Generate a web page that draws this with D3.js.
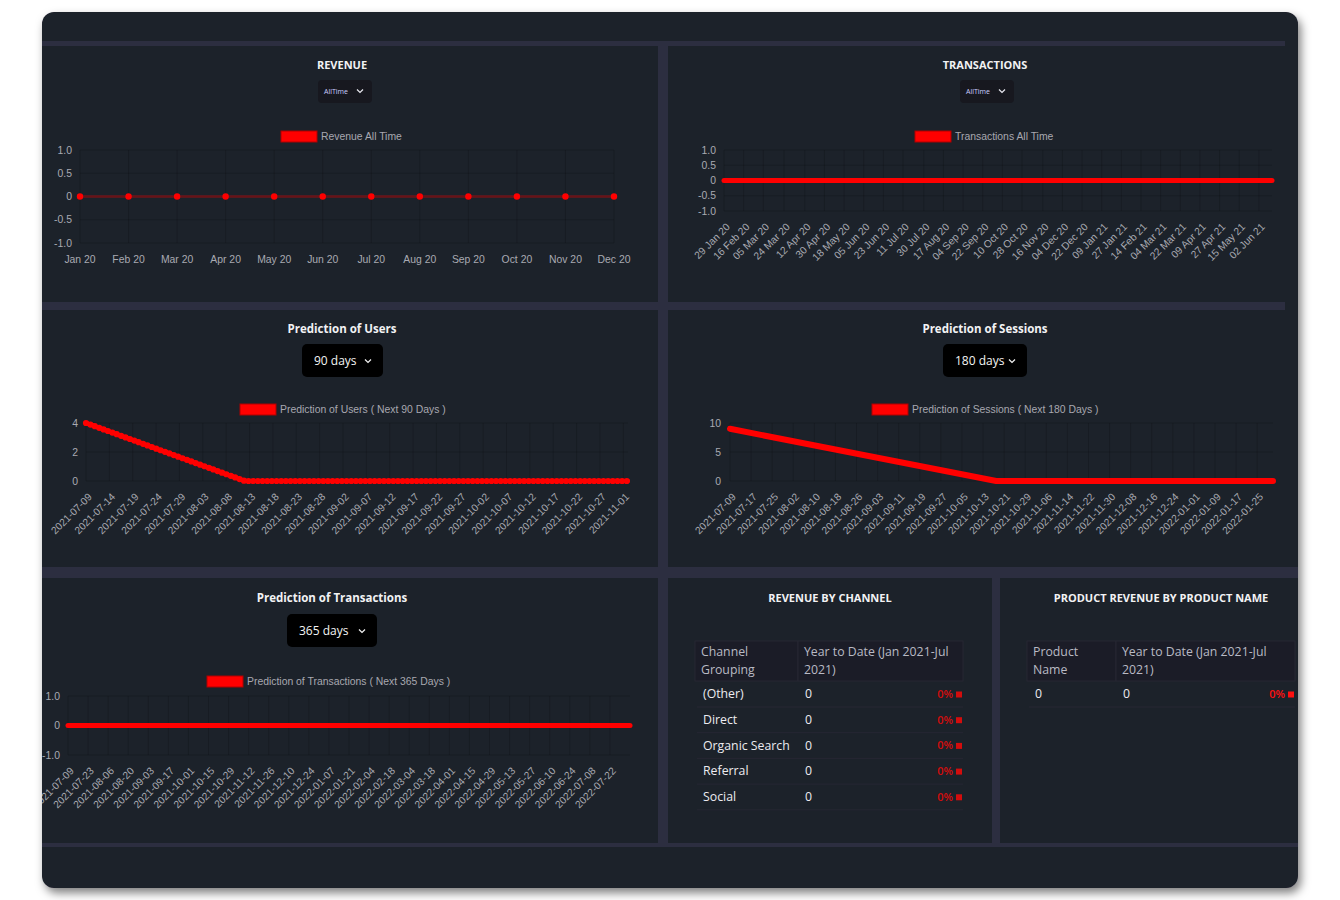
<!DOCTYPE html>
<html><head><meta charset="utf-8">
<script src="https://cdn.jsdelivr.net/npm/d3@7"></script>
<style>
html,body{margin:0;padding:0;background:#fff;}
svg{display:block;}
</style></head>
<body>
<script>
// ================= DATA =================
const revenueMonths = ["Jan 20","Feb 20","Mar 20","Apr 20","May 20","Jun 20","Jul 20","Aug 20","Sep 20","Oct 20","Nov 20","Dec 20"];
const revenueValues = [0,0,0,0,0,0,0,0,0,0,0,0];
const revenueYTicks = [1,0.5,0,-0.5,-1];

const txTickDates = ["2020-01-29","2020-02-16","2020-03-05","2020-03-24","2020-04-12","2020-04-30","2020-05-18","2020-06-05","2020-06-23","2020-07-11","2020-07-30","2020-08-17","2020-09-04","2020-09-22","2020-10-10","2020-10-28","2020-11-16","2020-12-04","2020-12-22","2021-01-09","2021-01-27","2021-02-14","2021-03-04","2021-03-22","2021-04-09","2021-04-27","2021-05-15","2021-06-02"];
const txDates = ["2020-01-29","2020-02-16","2020-03-05","2020-03-24","2020-04-12","2020-04-30","2020-05-18","2020-06-05","2020-06-23","2020-07-11","2020-07-30","2020-08-17","2020-09-04","2020-09-22","2020-10-10","2020-10-28","2020-11-16","2020-12-04","2020-12-22","2021-01-09","2021-01-27","2021-02-14","2021-03-04","2021-03-22","2021-04-09","2021-04-27","2021-05-15","2021-06-02","2021-06-14"];
const txValues = [0,0,0,0,0,0,0,0,0,0,0,0,0,0,0,0,0,0,0,0,0,0,0,0,0,0,0,0,0];
const txYTicks = [1,0.5,0,-0.5,-1];

const usersTickDates = ["2021-07-09","2021-07-14","2021-07-19","2021-07-24","2021-07-29","2021-08-03","2021-08-08","2021-08-13","2021-08-18","2021-08-23","2021-08-28","2021-09-02","2021-09-07","2021-09-12","2021-09-17","2021-09-22","2021-09-27","2021-10-02","2021-10-07","2021-10-12","2021-10-17","2021-10-22","2021-10-27","2021-11-01"];
const usersDates = ["2021-07-09","2021-08-12","2021-11-02"];
const usersValues = [4,0,0];
const usersYTicks = [4,2,0];

const sessionsTickDates = ["2021-07-09","2021-07-17","2021-07-25","2021-08-02","2021-08-10","2021-08-18","2021-08-26","2021-09-03","2021-09-11","2021-09-19","2021-09-27","2021-10-05","2021-10-13","2021-10-21","2021-10-29","2021-11-06","2021-11-14","2021-11-22","2021-11-30","2021-12-08","2021-12-16","2021-12-24","2022-01-01","2022-01-09","2022-01-17","2022-01-25"];
const sessionsDates = ["2021-07-09","2021-10-18","2022-01-31"];
const sessionsValues = [9,0,0];
const sessionsYTicks = [10,5,0];

const predTxTickDates = ["2021-07-09","2021-07-23","2021-08-06","2021-08-20","2021-09-03","2021-09-17","2021-10-01","2021-10-15","2021-10-29","2021-11-12","2021-11-26","2021-12-10","2021-12-24","2022-01-07","2022-01-21","2022-02-04","2022-02-18","2022-03-04","2022-03-18","2022-04-01","2022-04-15","2022-04-29","2022-05-13","2022-05-27","2022-06-10","2022-06-24","2022-07-08","2022-07-22"];
const predTxDates = ["2021-07-09","2022-08-05"];
const predTxValues = [0,0];
const predTxYTicks = [1,0,-1];

const channelNames = ["(Other)","Direct","Organic Search","Referral","Social"];
const channelValues = [0,0,0,0,0];
const channelPct = ["0%","0%","0%","0%","0%"];
const productNames = ["0"];
const productValues = [0];
const productPct = ["0%"];

// ================= STYLE =================
const BG = "#1f202c", GUTTER = "#2c2e40", GRID = "rgba(0,0,0,0.16)";
const RED = "#ff0000";
const UI = "'Open Sans', sans-serif";
const CH = "'Liberation Sans', Arial, sans-serif";
const TICK_COL = "#a9aab2";
const parse = d3.timeParse("%Y-%m-%d");
const fmtDMY = d3.timeFormat("%d %b %y");
const fmtISO = d3.timeFormat("%Y-%m-%d");
const numFmt = v => v === 0 ? "0" : (Number.isInteger(v) && Math.abs(v) !== 1 ? String(v) : v.toFixed(1));

const svg = d3.select("body").append("svg").attr("width",1340).attr("height",900);
const defs = svg.append("defs");
defs.append("clipPath").attr("id","cardClip").append("rect")
  .attr("x",42).attr("y",12).attr("width",1256).attr("height",876).attr("rx",12);
const f = defs.append("filter").attr("id","shadow").attr("x","-5%").attr("y","-5%").attr("width","110%").attr("height","115%");
f.append("feDropShadow").attr("dx",3).attr("dy",5).attr("stdDeviation",5).attr("flood-color","#000").attr("flood-opacity",0.5);

svg.append("rect").attr("x",42).attr("y",12).attr("width",1256).attr("height",876).attr("rx",12)
  .attr("fill",BG).attr("filter","url(#shadow)");
const root = svg.append("g").attr("clip-path","url(#cardClip)");

// gutters (layout bands)
const bands = [
  [42,41,1243,5],[42,302,1243,8],[42,567,1256,11],[42,843,1256,4],
  [658,46,10,256],[658,310,10,257],[658,578,10,265],[992,578,8,265]
];
root.selectAll("rect.band").data(bands).join("rect").attr("class","band")
  .attr("x",d=>d[0]).attr("y",d=>d[1]).attr("width",d=>d[2]).attr("height",d=>d[3]).attr("fill",GUTTER);

// ================= HELPERS =================
function title(txt, cx, cy, size){
  root.append("text").attr("x",cx).attr("y",cy).attr("dy","0.35em").attr("text-anchor","middle")
    .attr("font-family",UI).attr("font-weight",700).attr("font-size",size).attr("fill","#f2f2f4").text(txt);
}
function chevron(g, x, y, s, col){
  g.append("path").attr("d",`M${x-s},${y-s/2} L${x},${y+s/2} L${x+s},${y-s/2}`)
    .attr("fill","none").attr("stroke",col).attr("stroke-width",1.2);
}
function smallDrop(cx, y){
  const g = root.append("g");
  g.append("rect").attr("x",cx-27).attr("y",y).attr("width",54).attr("height",23).attr("rx",4).attr("fill","#17181f");
  g.append("text").attr("x",cx-21).attr("y",y+11.5).attr("dy","0.35em").attr("font-family",UI)
    .attr("font-size",7).attr("fill","#c9ccff").text("AllTime");
  chevron(g, cx+15, y+11, 3, "#e8e8f0");
}
function bigDrop(x, y, w, label){
  const g = root.append("g");
  g.append("rect").attr("x",x).attr("y",y).attr("width",w).attr("height",33).attr("rx",5).attr("fill","#000");
  g.append("text").attr("x",x+12).attr("y",y+16.5).attr("dy","0.35em").attr("font-family",UI)
    .attr("font-size",12).attr("fill","#f4f4f4").text(label);
  chevron(g, x+w-15, y+17, 3, "#f4f4f4");
}
function legend(x, y, label){
  root.append("rect").attr("x",x).attr("y",y).attr("width",36).attr("height",11)
    .attr("fill",RED).attr("stroke","#b00000").attr("stroke-width",1);
  root.append("text").attr("x",x+40).attr("y",y+5.5).attr("dy","0.35em").attr("font-family",CH)
    .attr("font-size",10.4).attr("fill","#a8a8b0").text(label);
}
function axes(o){
  const g = root.append("g");
  const [x0,x1] = o.x.range();
  g.selectAll("line.v").data(o.xTicks).join("line")
    .attr("x1",d=>o.x(d)).attr("x2",d=>o.x(d)).attr("y1",o.yTop).attr("y2",o.yBot)
    .attr("stroke",GRID).attr("stroke-width",1);
  g.selectAll("line.h").data(o.yTicks).join("line")
    .attr("x1",x0).attr("x2",x1).attr("y1",d=>o.y(d)).attr("y2",d=>o.y(d))
    .attr("stroke",GRID).attr("stroke-width",1);
  g.selectAll("text.y").data(o.yTicks).join("text")
    .attr("x",o.yLabelX).attr("y",d=>o.y(d)).attr("dy","0.35em").attr("text-anchor","end")
    .attr("font-family",CH).attr("font-size",10.4).attr("fill",TICK_COL).text(o.yFmt);
  if(o.rotate){
    g.selectAll("text.x").data(o.xTicks).join("text")
      .attr("transform",d=>`translate(${o.x(d)+4},${o.yBot+14}) rotate(-45)`)
      .attr("dy","0.35em").attr("text-anchor","end")
      .attr("font-family",CH).attr("font-size",10.3).attr("fill",TICK_COL).text(o.xFmt);
  } else {
    g.selectAll("text.x").data(o.xTicks).join("text")
      .attr("x",d=>o.x(d)).attr("y",o.yBot+16).attr("dy","0.35em").attr("text-anchor","middle")
      .attr("font-family",CH).attr("font-size",10.4).attr("fill",TICK_COL).text(o.xFmt);
  }
}

// ================= REVENUE =================
title("REVENUE", 342, 65, 11);
smallDrop(345, 80);
legend(281, 131, "Revenue All Time");
{
  const x = d3.scalePoint().domain(revenueMonths).range([80,614]);
  const y = d3.scaleLinear().domain([-1,1]).range([243,150]);
  axes({x, y, xTicks:revenueMonths, yTicks:revenueYTicks, yTop:150, yBot:243, yLabelX:72,
        yFmt:numFmt, xFmt:d=>d, rotate:false});
  const pts = revenueMonths.map((m,i)=>({m, v:revenueValues[i]}));
  root.append("path").datum(pts).attr("d", d3.line().x(d=>x(d.m)).y(d=>y(d.v)))
    .attr("fill","none").attr("stroke","rgba(255,0,0,0.35)").attr("stroke-width",2.5);
  root.selectAll("circle.rev").data(pts).join("circle").attr("cx",d=>x(d.m)).attr("cy",d=>y(d.v))
    .attr("r",3.2).attr("fill",RED);
}

// ================= TRANSACTIONS (ALL TIME) =================
title("TRANSACTIONS", 985, 65, 11);
smallDrop(987, 80);
legend(915, 131, "Transactions All Time");
{
  const dates = txDates.map(parse);
  const ticks = txTickDates.map(parse);
  const x = d3.scaleTime().domain(d3.extent(dates)).range([724,1272]);
  const y = d3.scaleLinear().domain([-1,1]).range([211,150]);
  axes({x, y, xTicks:ticks, yTicks:txYTicks, yTop:150, yBot:211, yLabelX:716,
        yFmt:numFmt, xFmt:fmtDMY, rotate:true});
  const pts = dates.map((d,i)=>({d, v:txValues[i]}));
  root.append("path").datum(pts).attr("d", d3.line().x(d=>x(d.d)).y(d=>y(d.v)))
    .attr("fill","none").attr("stroke",RED).attr("stroke-width",5).attr("stroke-linecap","round");
}

// ================= PREDICTION OF USERS =================
title("Prediction of Users", 342, 329, 11.5);
bigDrop(302, 344, 81, "90 days");
legend(240, 404, "Prediction of Users ( Next 90 Days )");
{
  const dates = usersDates.map(parse);
  const ticks = usersTickDates.map(parse);
  const x = d3.scaleTime().domain(d3.extent(dates)).range([86,628]);
  const y = d3.scaleLinear().domain([0,4]).range([481,423]);
  axes({x, y, xTicks:ticks, yTicks:usersYTicks, yTop:423, yBot:481, yLabelX:78,
        yFmt:d=>String(d), xFmt:fmtISO, rotate:true});
  const pts = dates.map((d,i)=>({d, v:usersValues[i]}));
  const ln = d3.line().x(d=>x(d.d)).y(d=>y(d.v));
  root.append("path").datum(pts).attr("d", ln)
    .attr("fill","none").attr("stroke",RED).attr("stroke-width",4).attr("stroke-linecap","round");
  root.append("path").datum(pts).attr("d", ln)
    .attr("fill","none").attr("stroke",RED).attr("stroke-width",6.2).attr("stroke-linecap","round")
    .attr("stroke-dasharray","0,4.67");
}

// ================= PREDICTION OF SESSIONS =================
title("Prediction of Sessions", 985, 329, 11.5);
bigDrop(943, 344, 84, "180 days");
legend(872, 404, "Prediction of Sessions ( Next 180 Days )");
{
  const dates = sessionsDates.map(parse);
  const ticks = sessionsTickDates.map(parse);
  const x = d3.scaleTime().domain(d3.extent(dates)).range([730,1273]);
  const y = d3.scaleLinear().domain([0,10]).range([481,423]);
  axes({x, y, xTicks:ticks, yTicks:sessionsYTicks, yTop:423, yBot:481, yLabelX:721,
        yFmt:d=>String(d), xFmt:fmtISO, rotate:true});
  const pts = dates.map((d,i)=>({d, v:sessionsValues[i]}));
  root.append("path").datum(pts).attr("d", d3.line().x(d=>x(d.d)).y(d=>y(d.v)))
    .attr("fill","none").attr("stroke",RED).attr("stroke-width",6).attr("stroke-linecap","round")
    .attr("stroke-linejoin","round");
}

// ================= PREDICTION OF TRANSACTIONS =================
title("Prediction of Transactions", 332, 598, 11.5);
bigDrop(287, 614, 90, "365 days");
legend(207, 676, "Prediction of Transactions ( Next 365 Days )");
{
  const dates = predTxDates.map(parse);
  const ticks = predTxTickDates.map(parse);
  const x = d3.scaleTime().domain(d3.extent(dates)).range([68,630]);
  const y = d3.scaleLinear().domain([-1,1]).range([755,696]);
  axes({x, y, xTicks:ticks, yTicks:predTxYTicks, yTop:696, yBot:755, yLabelX:60,
        yFmt:numFmt, xFmt:fmtISO, rotate:true});
  const pts = dates.map((d,i)=>({d, v:predTxValues[i]}));
  root.append("path").datum(pts).attr("d", d3.line().x(d=>x(d.d)).y(d=>y(d.v)))
    .attr("fill","none").attr("stroke",RED).attr("stroke-width",5).attr("stroke-linecap","round");
}

// ================= TABLES =================
function table(o){
  const g = root.append("g");
  g.selectAll("rect.h").data(o.cols).join("rect")
    .attr("x",d=>d.x).attr("y",641).attr("width",d=>d.w).attr("height",40)
    .attr("fill","#1b1c27").attr("stroke","#262733").attr("stroke-width",1);
  o.cols.forEach(c=>{
    c.lines.forEach((ln,i)=>{
      g.append("text").attr("x",c.x+6).attr("y",652+i*17.5).attr("dy","0.35em")
        .attr("font-family",UI).attr("font-size",12.3).attr("font-weight",500).attr("fill","#b9bac4").text(ln);
    });
  });
  const rowY = d3.scalePoint().domain(d3.range(o.names.length)).range([694, 694+25.7*(o.names.length-1)]);
  const rows = o.names.map((n,i)=>({n, v:o.values[i], p:o.pct[i], i}));
  g.selectAll("line.sep").data(rows).join("line")
    .attr("x1",o.cols[0].x+2).attr("x2",o.right).attr("y1",d=>rowY(d.i)+13).attr("y2",d=>rowY(d.i)+13)
    .attr("stroke","#262733").attr("stroke-width",1);
  g.selectAll("text.n").data(rows).join("text")
    .attr("x",o.cols[0].x+8).attr("y",d=>rowY(d.i)).attr("dy","0.35em")
    .attr("font-family",UI).attr("font-size",12.3).attr("fill","#ececf0").text(d=>d.n);
  g.selectAll("text.v").data(rows).join("text")
    .attr("x",o.cols[1].x+7).attr("y",d=>rowY(d.i)).attr("dy","0.35em")
    .attr("font-family",UI).attr("font-size",12.3).attr("fill","#ececf0").text(d=>d.v);
  g.selectAll("text.p").data(rows).join("text")
    .attr("x",o.right-10).attr("y",d=>rowY(d.i)).attr("dy","0.35em").attr("text-anchor","end")
    .attr("font-family",UI).attr("font-size",11).attr("font-weight",600).attr("fill",o.pctCol).text(d=>d.p);
  g.selectAll("rect.sq").data(rows).join("rect")
    .attr("x",o.right-7).attr("y",d=>rowY(d.i)-2.5).attr("width",6).attr("height",6).attr("fill",o.pctCol);
}
title("REVENUE BY CHANNEL", 830, 598, 11);
table({cols:[{x:695,w:103,lines:["Channel","Grouping"]},{x:798,w:165,lines:["Year to Date (Jan 2021-Jul","2021)"]}],
       right:963, names:channelNames, values:channelValues, pct:channelPct, pctCol:"#d40d0d"});
title("PRODUCT REVENUE BY PRODUCT NAME", 1161, 598, 11);
table({cols:[{x:1027,w:89,lines:["Product","Name"]},{x:1116,w:179,lines:["Year to Date (Jan 2021-Jul","2021)"]}],
       right:1295, names:productNames, values:productValues, pct:productPct, pctCol:"#ff1010"});
</script>
</body></html>
